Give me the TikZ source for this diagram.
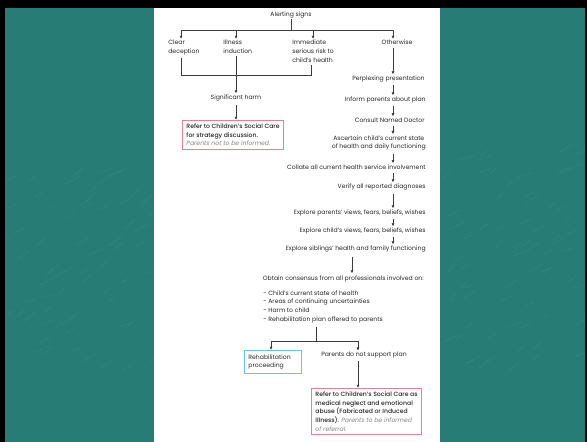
\documentclass[tikz,border=0pt]{standalone}
\usepackage{fontspec}
\IfFontExistsTF{Poppins Medium}{\setmainfont{Poppins}[BoldFont={Poppins Medium}]}{\setmainfont{Poppins}}
\usetikzlibrary{arrows.meta,calc}
\definecolor{teal1}{RGB}{40,124,118}
\definecolor{txtc}{RGB}{40,40,40}
\definecolor{itc}{RGB}{135,135,135}
\definecolor{linec}{RGB}{60,60,60}
\definecolor{redc}{RGB}{228,130,145}
\definecolor{bluec}{RGB}{105,195,232}
\newcommand{\ff}{\fontsize{4.6}{6.5}\selectfont}
\tikzset{
  txt/.style={inner sep=0.8pt, font=\ff, text=txtc},
  ln/.style={draw=linec, line width=0.5pt},
  arr/.style={ln, -{Latex[length=2.4pt,width=2.3pt]}},
  redbox/.style={draw=redc, line width=0.7pt, fill=white, inner xsep=3pt, inner ysep=2.5pt, font=\ff, text=txtc, align=left, anchor=north west},
  bluebox/.style={draw=bluec, line width=0.7pt, fill=white, inner xsep=3pt, inner ysep=3pt, font=\ff, text=txtc, align=left, anchor=north west},
  streak/.style={draw=white, opacity=0.045, line width=0.6pt}
}
\begin{document}
\begin{tikzpicture}[x=0.75pt,y=-0.75pt]
\useasboundingbox (0,0) rectangle (587,442);
% background
\fill[teal1] (0,0) rectangle (587,442);
\pgfmathsetseed{7}
\foreach \i in {1,...,70}{
  \pgfmathsetmacro{\px}{5+rnd*145}
  \pgfmathsetmacro{\py}{170+rnd*200}
  \draw[streak] (\px,\py) -- ++(6+rnd*10,-3-rnd*6);
  \pgfmathsetmacro{\qx}{442+rnd*138}
  \pgfmathsetmacro{\qy}{150+rnd*220}
  \draw[streak] (\qx,\qy) -- ++(6+rnd*10,-3-rnd*6);
}
\fill[black] (0,0) rectangle (587,8);
\fill[black] (0,0) rectangle (5,442);
\fill[black] (585,0) rectangle (587,442);
\fill[white] (154,8) rectangle (440,442);

% top
\node[txt] (alert) at (291,15) {Alerting signs};
\coordinate (c1) at (181,30);
\coordinate (c2) at (236,30);
\coordinate (c3) at (313,30);
\coordinate (c4) at (393,30);
\coordinate (X) at (393,0);
\coordinate (X2) at (352,0);
\draw[ln] (alert.south) -- (alert.south |- c1);
\draw[ln] (c1) -- (c4);

\node[txt, align=left, anchor=north west] (cd) at (167,39) {Clear\\deception};
\node[txt, align=left, anchor=north west] (ii) at (222,39) {Illness\\induction};
\node[txt, align=left, anchor=north west] (isr) at (291,39) {Immediate\\serious risk to\\child's health};
\node[txt, anchor=north] (ow) at (397,39) {Otherwise};

\draw[arr] (c1) -- (c1 |- cd.north);
\draw[arr] (c2) -- (c2 |- ii.north);
\draw[arr] (c3) -- (c3 |- isr.north);
\draw[arr] (c4) -- (c4 |- ow.north);

% bracket
\coordinate (b1) at (181,75);
\coordinate (b3) at (311,75);
\draw[ln] ($(cd.south -| b1)+(0,2)$) -- (b1) -- (b3) -- ($(isr.south -| b3)+(0,1)$);

\node[txt] (sh) at (236,98) {Significant harm};
\draw[arr] ($(ii.south -| c2)+(0,1)$) -- (c2 |- sh.north);

\node[redbox] (rb1) at (182,120) {\textbf{Refer to Children's Social Care}\\\textbf{for strategy discussion.}\\\textcolor{itc}{\itshape Parents not to be informed.}};
\draw[arr] ($(sh.south)+(0,2)$) -- (sh.south |- rb1.north);

% right column
\node[txt, anchor=east] (pp) at (426,79) {Perplexing presentation};
\node[txt, anchor=east] (ip) at (427,100) {Inform parents about plan};
\node[txt, anchor=east] (cn) at (426,120) {Consult Named Doctor};
\node[txt, anchor=east, align=center] (as) at (427,143) {Ascertain child's current state\\of health and daily functioning};
\node[txt, anchor=east] (co) at (427,167) {Collate all current health service involvement};
\node[txt, anchor=east] (ve) at (427,187) {Verify all reported diagnoses};
\node[txt, anchor=east] (ep) at (427,213) {Explore parents' views, fears, beliefs, wishes};
\node[txt, anchor=east] (ec) at (427,231) {Explore child's views, fears, beliefs, wishes};
\node[txt, anchor=east] (es) at (427,249) {Explore siblings' health and family functioning};
\node[txt, anchor=east] (ob) at (425,279) {Obtain consensus from all professionals involved on:};

\foreach \a/\b in {ow/pp, pp/ip, ip/cn, cn/as, as/co, co/ve, ve/ep, ep/ec, ec/es}{
  \draw[arr] ($(\a.south -| X)+(0,2)$) -- (\b.north -| X);
}
\draw[arr] ($(es.south -| X2)+(0,3)$) -- ($(ob.north -| X2)+(0,-1)$);

\node[txt, align=left, anchor=north west] (li) at (262,289) {- Child's current state of health\\- Areas of continuing uncertainties\\- Harm to child\\- Rehabilitation plan offered to parents};

% branch
\coordinate (m) at (316,341);
\coordinate (bl) at (271,341);
\coordinate (br) at (358,341);
\draw[ln] ($(li.south -| m)+(0,3)$) -- (m);
\draw[ln] (bl) -- (br);

\node[bluebox] (rp) at (244,350) {Rehabilitation\\proceeding\hspace*{10pt}};
\node[txt] (pd) at (364,355) {Parents do not support plan};
\draw[arr] (bl) -- (bl |- rp.north);
\draw[arr] (br) -- (br |- pd.north);

\node[redbox] (rb2) at (311,388) {\textbf{Refer to Children's Social Care as}\\\textbf{medical neglect and emotional}\\\textbf{abuse (Fabricated or Induced}\\\textbf{Illness).} \textcolor{itc}{\itshape Parents to be informed}\\\textcolor{itc}{\itshape of referral.}};
\draw[arr] ($(pd.south -| br)+(0,2)$) -- (br |- rb2.north);
\end{tikzpicture}
\end{document}
